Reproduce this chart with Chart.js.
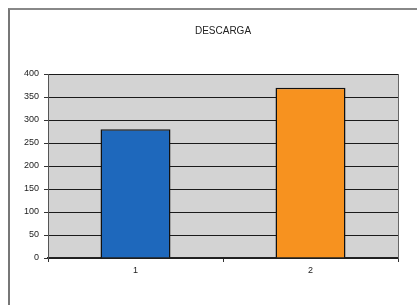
<!DOCTYPE html>
<html>
<head>
<meta charset="utf-8">
<script src="https://cdn.jsdelivr.net/npm/chart.js@4"></script>
<style>
html,body{margin:0;padding:0;background:#fff;}
#wrap{position:relative;width:417px;height:305px;}
#frame{position:absolute;left:8px;top:8px;width:420px;height:310px;border-left:2px solid #777;border-top:2px solid #888;box-sizing:border-box;pointer-events:none;}
canvas{position:absolute;left:0;top:0;}
</style>
</head>
<body>
<div id="wrap">
<canvas id="c" width="417" height="305"></canvas>
<div id="frame"></div>
</div>
<script>
const categories = ["1", "2"];
const descarga = [280, 370];
const barColors = ["#1e68bc", "#f7921f"];
const yTicks = [0, 50, 100, 150, 200, 250, 300, 350, 400];

const plotBg = {
  id: 'plotBg',
  beforeDraw(chart) {
    const a = chart.chartArea, ctx = chart.ctx;
    ctx.save();
    ctx.fillStyle = '#d3d3d3';
    ctx.fillRect(a.left, a.top, a.right - a.left, a.bottom - a.top);
    ctx.restore();
  },
  afterDatasetsDraw(chart) {
    const a = chart.chartArea, ctx = chart.ctx;
    ctx.save();
    ctx.strokeStyle = '#666';
    ctx.lineWidth = 1;
    ctx.beginPath();
    ctx.moveTo(a.right + 0.5, a.top);
    ctx.lineTo(a.right + 0.5, a.bottom);
    ctx.stroke();
    ctx.restore();
  }
};

new Chart(document.getElementById('c'), {
  type: 'bar',
  data: {
    labels: categories,
    datasets: [{
      label: 'DESCARGA',
      data: descarga,
      backgroundColor: barColors,
      borderColor: '#111',
      borderWidth: 1.5,
      barPercentage: 0.4,
      categoryPercentage: 1.0
    }]
  },
  options: {
    responsive: false,
    animation: false,
    devicePixelRatio: 1,
    layout: { padding: { top: 25, right: 19, left: 0, bottom: 0 } },
    plugins: {
      legend: { display: false },
      tooltip: { enabled: false },
      title: {
        display: true,
        fullSize: false,
        text: 'DESCARGA',
        color: '#222',
        font: { family: 'Liberation Sans, Arial, sans-serif', size: 10, weight: 'normal', lineHeight: 1.2 },
        padding: { top: 0, bottom: 37 }
      }
    },
    scales: {
      x: {
        offset: true,
        grid: { offset: true, drawOnChartArea: false, drawTicks: true, tickLength: 4, color: '#333' },
        border: { display: true, color: '#222', width: 1.5 },
        ticks: { color: '#222', font: { family: 'Liberation Sans, Arial, sans-serif', size: 9 }, padding: 3 },
        afterFit(s) { s.height = 47; }
      },
      y: {
        min: 0, max: 400,
        afterBuildTicks(s) { s.ticks = yTicks.map(v => ({ value: v })); },
        grid: { color: '#1a1a1a', lineWidth: 1, drawTicks: true, tickLength: 4, tickColor: '#333' },
        border: { display: true, color: '#555', width: 1 },
        ticks: { color: '#222', font: { family: 'Liberation Sans, Arial, sans-serif', size: 9 }, padding: 5 },
        afterFit(s) { s.width = 48; }
      }
    }
  },
  plugins: [plotBg]
});
</script>
</body>
</html>
